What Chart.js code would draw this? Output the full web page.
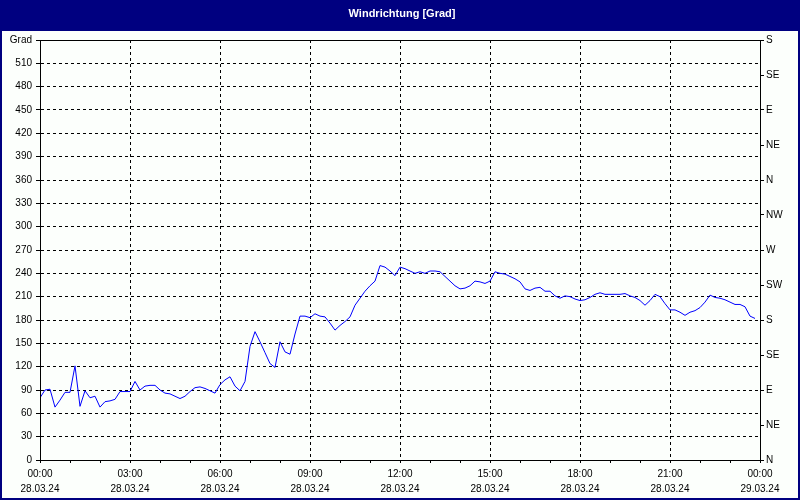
<!DOCTYPE html>
<html>
<head>
<meta charset="utf-8">
<script src="https://cdn.jsdelivr.net/npm/chart.js@4/dist/chart.umd.min.js"></script>
<style>
  html, body { margin: 0; padding: 0; background: #000080; }
  canvas { display: block; }
</style>
</head>
<body>
<canvas id="windChart" width="800" height="500"></canvas>
<script>
// ---- data ----
const chartTitle = "Windrichtung [Grad]";
const stepMinutes = 10; // one reading every 10 minutes, starting 00:00
const direction = [
  80, 90, 91, 68, 77, 87, 87, 121, 69, 89,
  80, 82, 68, 75, 76, 78, 88, 88, 88, 101,
  90, 95, 96, 96, 90, 86, 85, 82, 79, 82,
  88, 93, 94, 92, 89, 86, 97, 103, 107, 95,
  89, 101, 146, 165, 152, 138, 124, 119, 152, 139,
  136, 162, 185, 185, 183, 188, 185, 184, 176, 167,
  173, 178, 184, 199, 208, 217, 224, 230, 250, 248,
  243, 237, 248, 246, 243, 240, 242, 240, 243, 243,
  242, 236, 230, 224, 220, 221, 224, 230, 229, 227,
  230, 242, 240, 239, 236, 233, 229, 220, 218, 221,
  222, 217, 217, 211, 208, 211, 210, 207, 205, 206,
  209, 213, 215, 213, 213, 213, 213, 214, 211, 209,
  205, 199, 205, 213, 210, 201, 193, 193, 190, 186,
  190, 192, 196, 203, 212, 209, 208, 206, 203, 200,
  200, 197, 185, 182
];
const timeLabels = ["00:00", "03:00", "06:00", "09:00", "12:00", "15:00", "18:00", "21:00", "00:00"];
const dateLabels = ["28.03.24", "28.03.24", "28.03.24", "28.03.24", "28.03.24", "28.03.24", "28.03.24", "28.03.24", "29.03.24"];
const compassLabels = ["N", "NE", "E", "SE", "S", "SW", "W", "NW", "N", "NE", "E", "SE", "S"];
const unitLabel = "Grad";

const points = direction.map((v, i) => ({ x: i * stepMinutes, y: v }));
const FONT = { family: "'Liberation Sans', Arial, sans-serif", size: 10, lineHeight: 1.45 };

// ---- frame / title bar ----
const framePlugin = {
  id: "frame",
  beforeDraw(chart) {
    const c = chart.ctx;
    c.save();
    c.fillStyle = "#000080";
    c.fillRect(0, 0, 800, 500);
    c.fillStyle = "#fcfffc";
    c.fillRect(2, 31, 796, 467);
    c.fillStyle = "#ffffff";
    c.font = "bold 11px 'Liberation Sans', Arial, sans-serif";
    c.textAlign = "center";
    c.textBaseline = "middle";
    c.fillText(chartTitle, 402, 14);
    c.restore();
  },
  afterDraw(chart) {
    const a = chart.chartArea;
    const c = chart.ctx;
    c.save();
    c.strokeStyle = "#000";
    c.lineWidth = 1;
    c.strokeRect(Math.round(a.left) + 0.5, Math.round(a.top) + 0.5, Math.round(a.right - a.left), Math.round(a.bottom - a.top));
    c.restore();
  }
};

Chart.defaults.font.family = FONT.family;
Chart.defaults.font.size = 10;
Chart.defaults.color = "#000";

new Chart(document.getElementById("windChart").getContext("2d"), {
  type: "line",
  data: {
    datasets: [{
      data: points,
      borderColor: "#0000ff",
      borderWidth: 1,
      pointRadius: 0,
      tension: 0,
      fill: false
    }]
  },
  options: {
    responsive: false,
    animation: false,
    layout: { padding: { top: 40, left: 0, right: 0, bottom: 0 } },
    plugins: { legend: { display: false }, tooltip: { enabled: false } },
    scales: {
      x: {
        type: "linear",
        min: 0,
        max: 1440,
        afterFit: s => { s.height = 40; },
        ticks: {
          stepSize: 60,
          autoSkip: false,
          maxRotation: 0,
          padding: 4,
          font: FONT,
          callback: v => v % 180 === 0 ? [timeLabels[v / 180], dateLabels[v / 180]] : ""
        },
        grid: {
          color: ctx => (ctx.tick && ctx.tick.value % 180 === 0) ? "#000" : "rgba(0,0,0,0)",
          tickColor: "#000",
          tickLength: 3
        },
        border: { display: true, color: "#000", dash: [3, 3] }
      },
      y: {
        position: "left",
        min: 0,
        max: 540,
        afterFit: s => { s.width = 40; },
        ticks: {
          stepSize: 30,
          padding: 4,
          font: FONT,
          callback: v => v === 540 ? unitLabel : String(v)
        },
        grid: { color: "#000", tickColor: "#000", tickLength: 4 },
        border: { display: true, color: "#000", dash: [3, 3] }
      },
      yDir: {
        position: "right",
        min: 0,
        max: 540,
        afterFit: s => { s.width = 40; },
        ticks: {
          stepSize: 45,
          padding: 2,
          font: FONT,
          callback: v => compassLabels[v / 45]
        },
        grid: { drawOnChartArea: false, tickColor: "#000", tickLength: 4 },
        border: { display: true, color: "#000" }
      }
    }
  },
  plugins: [framePlugin]
});
</script>
</body>
</html>
